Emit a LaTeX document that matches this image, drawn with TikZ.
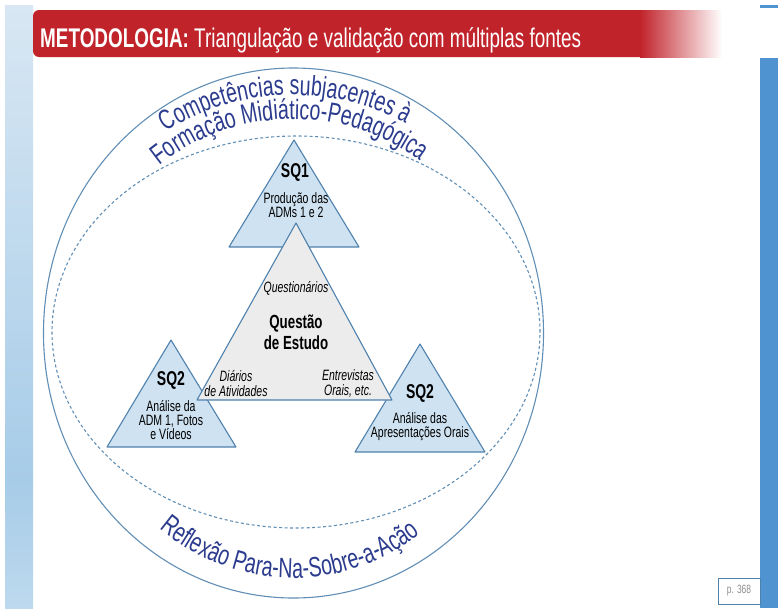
\documentclass[tikz,border=0pt]{standalone}
\usepackage{fontspec}
\setmainfont{Liberation Sans}[FakeStretch=0.70]
\usetikzlibrary{decorations.text}
\definecolor{titlered}{HTML}{C1232B}
\definecolor{edgeblue}{HTML}{4F81AD}
\definecolor{sqfill}{HTML}{CFE2F1}
\definecolor{qfill}{HTML}{ECECEC}
\definecolor{navytext}{HTML}{2B3B8E}
\definecolor{barblue}{HTML}{4F94D1}
\definecolor{striptop}{HTML}{D8E7F3}
\definecolor{stripmid}{HTML}{A7CCE8}
\newcommand\curvefont{\fontsize{28}{32}\selectfont\color{navytext}}
\begin{document}
\begin{tikzpicture}[x=1pt, y=1pt,
        sqtri/.style = {draw=edgeblue, fill=sqfill, line width=1.1pt, line join=round},
        qtri/.style = {draw=edgeblue, fill=qfill, line width=1.1pt, line join=round},
        sqhead/.style = {font=\fontsize{20}{22}\selectfont\bfseries, inner sep=0pt},
        sqbody/.style = {font=\fontsize{15}{14}\selectfont, align=center, inner sep=0pt},
        qhead/.style = {font=\fontsize{19}{21}\selectfont\bfseries, align=center, inner sep=0pt},
        source/.style = {font=\fontsize{15}{15}\selectfont\itshape, align=center, inner sep=0pt},
        ring/.style = {draw=edgeblue!90, line width=1.1pt}]
    \useasboundingbox (0,0) rectangle (778,-608);
    % page frame
    \shade[top color=striptop, bottom color=stripmid] (5,-5) rectangle (33,-480);
    \shade[top color=stripmid, bottom color=stripmid!75!white] (5,-480) rectangle (33,-608);
    \fill[barblue] (760,-58) rectangle (778,-608);
    \fill[barblue] (760,-5) rectangle (778,-8);
    \fill[titlered, rounded corners=6pt] (33,-10) rectangle (660,-57);
    \shade[left color=titlered, right color=white] (640,-10) rectangle (722,-57);
    \node[anchor=base west, text=white, inner sep=0pt, font=\fontsize{27}{30}\selectfont] (title) at (40,-47)
        {\textbf{METODOLOGIA:} Triangulação e validação com múltiplas fontes};
    \node[draw=edgeblue, line width=0.8pt, text=black!45, font=\fontsize{12}{14}\selectfont,
        minimum width=42pt, minimum height=26pt, inner sep=0pt] (page) at (739,-591) {p. 368};
    % rings
    \draw[ring] (293.5,-333) ellipse [x radius=250, y radius=265];
    \draw[ring, dash pattern=on 3pt off 2.5pt] (296,-332) ellipse [x radius=244, y radius=196];
    % curved labels
    \path[decorate, decoration={text along path, text align=center,
        text={|\curvefont|Competências subjacentes à}}]
        (293,-333) ++(127:238) arc[start angle=127, end angle=57, radius=238];
    \path[decorate, decoration={text along path, text align=center,
        text={|\curvefont|Formação Midiático-Pedagógica}}]
        (293,-333) ++(133:214) arc[start angle=133, end angle=49, radius=214];
    \path[decorate, decoration={text along path, text align=center,
        text={|\curvefont|Reflexão Para-Na-Sobre-a-Ação}}]
        (293,-333) ++(225:222 and 245) arc[start angle=225, end angle=313, x radius=222, y radius=245];
    % sub-questions
    \draw[sqtri] (229,-247) -- (294,-140) -- (359,-247) -- cycle;
    \draw[sqtri] (107,-447) -- (171,-340) -- (236,-447) -- cycle;
    \draw[sqtri] (355,-452) -- (420,-344) -- (485,-452) -- cycle;
    % study question
    \draw[qtri] (197,-400) -- (296,-223) -- (392,-400) -- cycle;
    \node[sqhead] (sq1) at (295,-172) {SQ1};
    \node[sqbody] (sq1txt) at (296,-205) {Produção das\\ADMs 1 e 2};
    \node[sqhead] (sq2a) at (171,-380) {SQ2};
    \node[sqbody] (sq2atxt) at (171,-420) {Análise da\\ADM 1, Fotos\\e Vídeos};
    \node[sqhead] (sq2b) at (420,-393) {SQ2};
    \node[sqbody] (sq2btxt) at (420,-427) {Análise das\\Apresentações Orais};
    \node[qhead] (rq) at (296,-332) {Questão\\de Estudo};
    \node[source] (quest) at (296,-288) {Questionários};
    \node[source] (diar) at (236,-384) {Diários\\de Atividades};
    \node[source] (entr) at (348,-384) {Entrevistas\\Orais, etc.};
\end{tikzpicture}
\end{document}
